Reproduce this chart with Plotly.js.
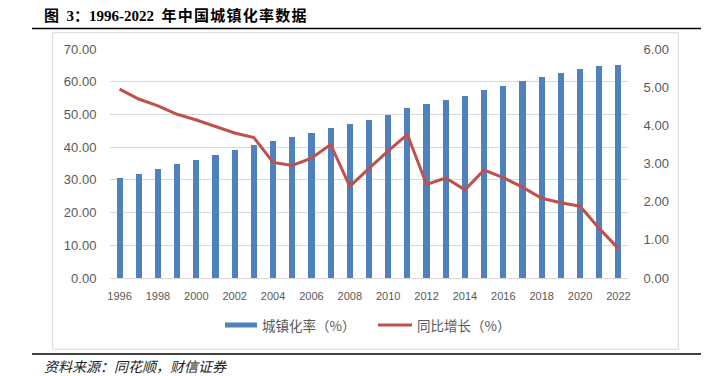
<!DOCTYPE html>
<html><head><meta charset="utf-8">
<script src="https://cdn.plot.ly/plotly-3.0.1.min.js"></script>
<style>html,body{margin:0;padding:0;background:#fff;}#chart{width:717px;height:376px;}</style>
</head><body><div id="chart"></div>
<script>
const years = [1996,1997,1998,1999,2000,2001,2002,2003,2004,2005,2006,2007,2008,2009,2010,2011,2012,2013,2014,2015,2016,2017,2018,2019,2020,2021,2022];
const urbanRate = [30.48,31.91,33.35,34.78,36.22,37.66,39.09,40.53,41.76,42.99,44.34,45.89,46.99,48.34,49.95,51.83,53.10,54.49,55.75,57.33,58.84,60.24,61.50,62.71,63.89,64.72,65.22];
const yoyGrowth = [4.95,4.69,4.51,4.29,4.14,3.98,3.80,3.68,3.03,2.95,3.14,3.50,2.40,2.87,3.33,3.76,2.45,2.62,2.31,2.83,2.63,2.38,2.09,1.97,1.88,1.30,0.77];
const xTickYears = [1996,1998,2000,2002,2004,2006,2008,2010,2012,2014,2016,2018,2020,2022];
const seriesNames = ['城镇化率（%）','同比增长（%）'];
const titleText = '图 3：1996-2022 年中国城镇化率数据';
const sourceText = '资料来源：同花顺，财信证券';

const W=717,H=376,L=110,R=89,T=49,B=98;
const pw=W-L-R, ph=H-T-B;
const px = x => (x-L)/pw;
const py = y => (H-B-y)/ph;
const barColor='#4F81BD', lineColor='#C0504D', gridColor='#D9D9D9', labelColor='#595959';
const cjk='"Noto Sans CJK SC", sans-serif';
const num='"Liberation Sans", Arial, sans-serif';
// slightly widen spacing between CJK characters of the title, as in the reference
const spacedTitle = titleText.replace(/([\u4e00-\u9fff])(?=[\u4e00-\u9fff])/g, '$1\u200A').replace(/ /g, '\u2002');

const traces=[
  {type:'bar', x:years, y:urbanRate, name:seriesNames[0], width:0.32,
   marker:{color:barColor}, showlegend:false, hoverinfo:'skip'},
  {type:'scatter', mode:'lines', x:years, y:yoyGrowth, yaxis:'y2', name:seriesNames[1],
   line:{color:lineColor, width:3}, showlegend:false, hoverinfo:'skip'}
];

const shapes=[
  {type:'rect', xref:'paper', yref:'paper', x0:px(52.7), x1:px(678.3), y0:py(32.7), y1:py(349.3), line:{color:gridColor, width:1}, layer:'below'},
  {type:'line', xref:'paper', yref:'paper', x0:px(32), x1:px(701), y0:py(28.5), y1:py(28.5), line:{color:'#000', width:1.5}},
  {type:'line', xref:'paper', yref:'paper', x0:px(32), x1:px(701), y0:py(354), y1:py(354), line:{color:'#404040', width:2}},
  {type:'rect', xref:'paper', yref:'paper', x0:px(225), x1:px(257), y0:py(322.5), y1:py(327.5), fillcolor:barColor, line:{width:0}},
  {type:'line', xref:'paper', yref:'paper', x0:px(378), x1:px(412), y0:py(325), y1:py(325), line:{color:lineColor, width:3}}
];

const annotations=[
  {xref:'paper', yref:'paper', x:px(42), y:py(15), xanchor:'left', yanchor:'middle', showarrow:false,
   text:'<b>'+spacedTitle+'</b>', font:{family:'"Liberation Serif", "Noto Sans CJK SC", serif', size:15, color:'#000'}},
  {xref:'paper', yref:'paper', x:px(260), y:py(325), xanchor:'left', yanchor:'middle', showarrow:false,
   text:seriesNames[0], font:{family:cjk, size:13.5, color:labelColor}},
  {xref:'paper', yref:'paper', x:px(415), y:py(325), xanchor:'left', yanchor:'middle', showarrow:false,
   text:seriesNames[1], font:{family:cjk, size:13.5, color:labelColor}},
  {xref:'paper', yref:'paper', x:px(42), y:py(366), xanchor:'left', yanchor:'middle', showarrow:false,
   text:'<i>'+sourceText+'</i>', font:{family:cjk, size:14, color:'#222'}}
];

const layout={
  width:W, height:H, margin:{l:L, r:R, t:T, b:B, pad:0},
  paper_bgcolor:'#fff', plot_bgcolor:'rgba(0,0,0,0)', showlegend:false,
  bargap:0,
  xaxis:{type:'linear', range:[1995.5,2022.5], tickvals:xTickYears, ticktext:xTickYears.map(String),
    showgrid:false, zeroline:false, showline:false, ticks:'outside', ticklen:8, tickcolor:'rgba(0,0,0,0)',
    tickfont:{family:num, size:11, color:labelColor}, fixedrange:true},
  yaxis:{range:[0,70], tick0:0, dtick:10, tickformat:'.2f', showgrid:true, gridcolor:gridColor, gridwidth:1,
    zeroline:true, zerolinecolor:gridColor, zerolinewidth:1, showline:false,
    ticks:'outside', ticklen:10, tickcolor:'rgba(0,0,0,0)', tickfont:{family:num, size:13, color:labelColor}, fixedrange:true},
  yaxis2:{overlaying:'y', side:'right', range:[0,6], tick0:0, dtick:1, tickformat:'.2f', showgrid:false, zeroline:false, showline:false,
    ticks:'outside', ticklen:12, tickcolor:'rgba(0,0,0,0)', tickfont:{family:num, size:13, color:labelColor}, fixedrange:true},
  shapes:shapes, annotations:annotations
};
Plotly.newPlot('chart', traces, layout, {displayModeBar:false, staticPlot:true});
</script></body></html>
